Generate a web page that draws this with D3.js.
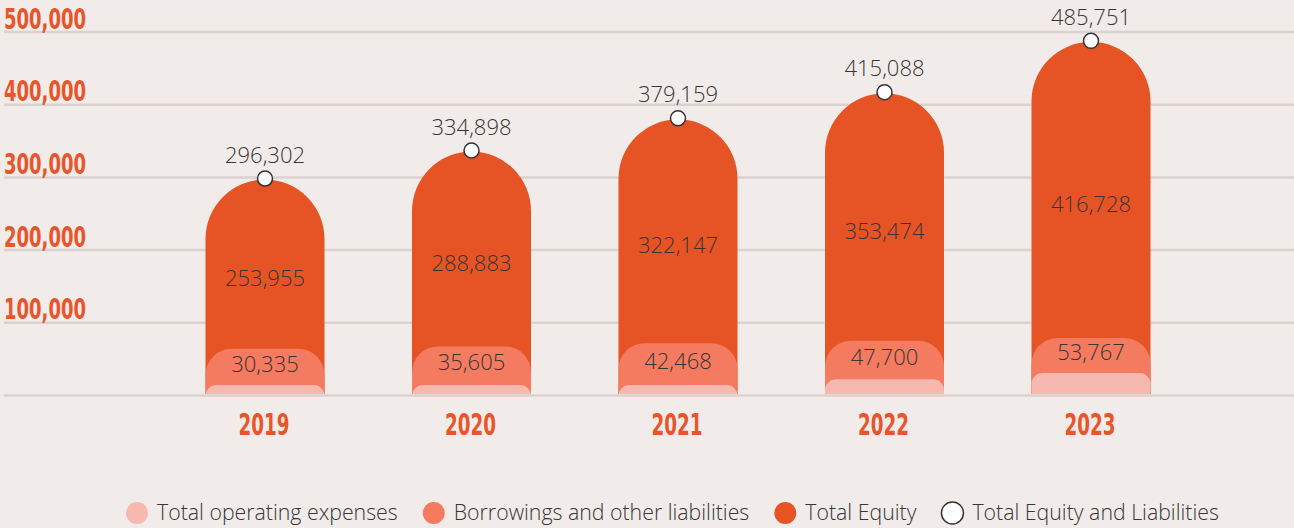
<!DOCTYPE html>
<html>
<head>
<meta charset="utf-8">
<script src="https://cdn.jsdelivr.net/npm/d3@7"></script>
<style>
  html, body { margin:0; padding:0; background:#f1ece9; }
  svg { display:block; }
</style>
</head>
<body>
<div id="chart-area"></div>
<script>
const years = ["2019", "2020", "2021", "2022", "2023"];
const totals = [296302, 334898, 379159, 415088, 485751];       // Total Equity and Liabilities
const equity = [253955, 288883, 322147, 353474, 416728];       // Total Equity
const borrowings = [30335, 35605, 42468, 47700, 53767];        // Borrowings and other liabilities
const opex = [13800, 13800, 13800, 21500, 30300];              // Total operating expenses (not labelled)
const yTicks = [0, 100000, 200000, 300000, 400000, 500000];
const yTickLabels = ["", "100,000", "200,000", "300,000", "400,000", "500,000"];
const legendLabels = ["Total operating expenses", "Borrowings and other liabilities", "Total Equity", "Total Equity and Liabilities"];

const colors = ['#f7b8b0', '#f47a60', '#e65425', '#ffffff'];
const accent = '#e8552a';
const textColor = '#363636';

const width = 1294, height = 528;
const barWidth = 119;

var svg = d3.select("#chart-area").append("svg")
    .attr("width", width)
    .attr("height", height);

var y = d3.scaleLinear().domain([0, 500000]).range([395, 31.5]);
var x = d3.scalePoint().domain(years).range([265, 1091]);

// inner layers are drawn on an exaggerated scale in the original
var yInner = d3.scaleLinear().domain([0, 60000]).range([y(0) - 32, y(0) - 60]);

// gridlines
var grid = svg.append("g")
    .attr("transform", "translate(4,0)")
    .call(d3.axisRight(y).tickValues(yTicks).tickSize(width).tickFormat(""));
grid.select(".domain").remove();
grid.selectAll("line").attr("stroke", "#dbd1cf").attr("stroke-width", 2.5);

// y labels
svg.selectAll("text.ylab")
   .data(yTicks.filter((d, i) => yTickLabels[i] != ""))
   .enter()
   .append("text")
   .attr("class", "ylab")
   .attr("x", 4)
   .attr("y", d => y(d) - 3)
   .attr("font-family", "'DejaVu Sans Condensed', 'Liberation Sans Narrow', 'DejaVu Sans'")
   .attr("font-weight", "bold")
   .attr("font-size", 28)
   .attr("textLength", 82)
   .attr("lengthAdjust", "spacingAndGlyphs")
   .attr("fill", accent)
   .text(d => yTickLabels[yTicks.indexOf(d)]);

function roundTop(cx, w, yTop, yBot, r) {
    var x0 = cx - w / 2, x1 = cx + w / 2;
    return `M${x0},${yBot} V${yTop + r} A${r},${r} 0 0 1 ${x0 + r},${yTop} H${x1 - r} A${r},${r} 0 0 1 ${x1},${yTop + r} V${yBot} Z`;
}

var bars = svg.selectAll("g.bar")
    .data(years)
    .enter()
    .append("g")
    .attr("class", "bar");

var base = y(0) - 1;

// total equity column
bars.append("path")
    .attr("fill", colors[2])
    .attr("d", (d, i) => roundTop(x(d), barWidth, y(totals[i]), base, barWidth / 2));

// borrowings
bars.append("path")
    .attr("fill", colors[1])
    .attr("d", (d, i) => roundTop(x(d), barWidth, yInner(borrowings[i]), base, 26));

// operating expenses
bars.append("path")
    .attr("fill", colors[0])
    .attr("d", (d, i) => roundTop(x(d), barWidth, y(opex[i]), base, 11));

// equity labels
bars.append("text")
    .attr("x", d => x(d))
    .attr("y", (d, i) => (y(totals[i]) + yInner(borrowings[i])) / 2 + 14)
    .attr("dy", "0.35em")
    .attr("text-anchor", "middle")
    .attr("font-family", "'Open Sans'")
    .attr("font-weight", 300)
    .attr("font-size", 22)
    .attr("fill", textColor)
    .text((d, i) => d3.format(",")(equity[i]));

// borrowing labels
bars.append("text")
    .attr("x", d => x(d))
    .attr("y", (d, i) => (yInner(borrowings[i]) + y(opex[i])) / 2 - 3)
    .attr("dy", "0.35em")
    .attr("text-anchor", "middle")
    .attr("font-family", "'Open Sans'")
    .attr("font-weight", 300)
    .attr("font-size", 22)
    .attr("fill", textColor)
    .text((d, i) => d3.format(",")(borrowings[i]));

// total markers
bars.append("circle")
    .attr("cx", d => x(d))
    .attr("cy", (d, i) => y(totals[i]) - 1)
    .attr("r", 7.5)
    .attr("fill", "#fff")
    .attr("stroke", "#333")
    .attr("stroke-width", 1.5);

bars.append("text")
    .attr("x", d => x(d))
    .attr("y", (d, i) => y(totals[i]) - 17)
    .attr("text-anchor", "middle")
    .attr("font-family", "'Open Sans'")
    .attr("font-weight", 300)
    .attr("font-size", 22)
    .attr("fill", textColor)
    .text((d, i) => d3.format(",")(totals[i]));

// year labels
bars.append("text")
    .attr("x", d => x(d) - 1)
    .attr("y", 435)
    .attr("text-anchor", "middle")
    .attr("font-family", "'DejaVu Sans Condensed', 'Liberation Sans Narrow', 'DejaVu Sans'")
    .attr("font-weight", "bold")
    .attr("font-size", 30)
    .attr("textLength", 51)
    .attr("lengthAdjust", "spacingAndGlyphs")
    .attr("fill", accent)
    .text(d => d);

// legend
var legend = svg.append("g").attr("transform", "translate(0,513)");
var lx = 126;
legendLabels.forEach(function(lab, i) {
    var item = legend.append("g");
    item.append("circle")
        .attr("cx", lx + 11)
        .attr("cy", 0)
        .attr("r", 11)
        .attr("fill", colors[i])
        .attr("stroke", i == 3 ? "#333" : "none")
        .attr("stroke-width", 1.5);
    var t = item.append("text")
        .attr("x", lx + 31)
        .attr("y", 0)
        .attr("dy", "0.35em")
        .attr("font-family", "'Open Sans'")
        .attr("font-weight", 300)
        .attr("font-size", 21.3)
        .attr("fill", textColor)
        .text(lab);
    lx = lx + 31 + t.node().getComputedTextLength() + 25;
});
</script>
</body>
</html>
